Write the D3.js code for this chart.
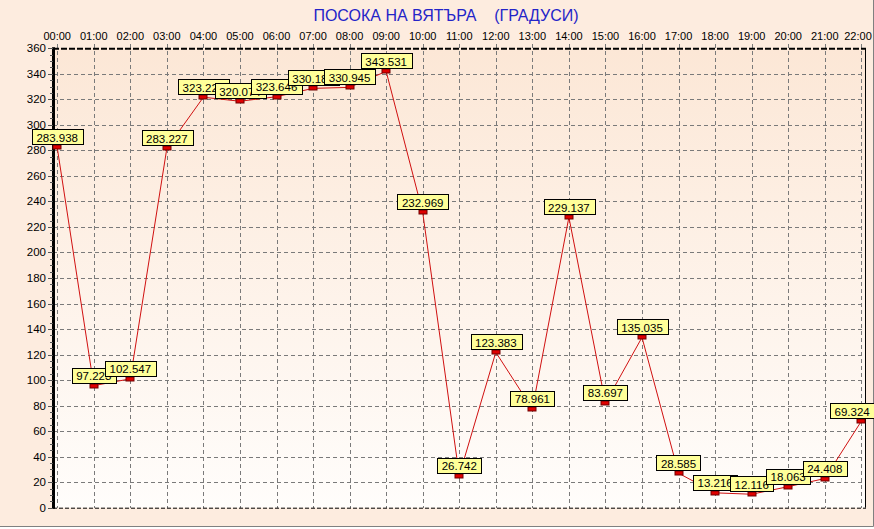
<!DOCTYPE html>
<html><head><meta charset="utf-8">
<script src="https://cdn.jsdelivr.net/npm/d3@7"></script>
<style>body{margin:0;background:#fff}svg{display:block}</style>
</head><body>
<svg id="c" width="874" height="529"></svg>
<script>
const hours = ["00:00","01:00","02:00","03:00","04:00","05:00","06:00","07:00","08:00","09:00","10:00","11:00","12:00","13:00","14:00","15:00","16:00","17:00","18:00","19:00","20:00","21:00","22:00"];
const values = [283.938,97.223,102.547,283.227,323.224,320.074,323.646,330.184,330.945,343.531,232.969,26.742,123.383,78.961,229.137,83.697,135.035,28.585,13.216,12.116,18.063,24.408,69.324];
const yTicks = [0,20,40,60,80,100,120,140,160,180,200,220,240,260,280,300,320,340,360];
const title = "ПОСОКА НА ВЯТЪРА    (ГРАДУСИ)";

(function(){
const svg = d3.select("#c");
const W = 874, H = 529;
const x = d3.scaleLinear().domain([0, hours.length-1]).range([57.2, 861.3]);
const y = d3.scaleLinear().domain([0, 360]).range([507.7, 48.3]);
const pL = 53, pR = 866, pT = 48.3, pB = 507.7;
const FF = "Liberation Sans, Arial, sans-serif";

const defs = svg.append("defs");
const g1 = defs.append("linearGradient").attr("id","pg").attr("x1",0).attr("y1",0).attr("x2",0).attr("y2",1);
g1.append("stop").attr("offset","0%").attr("stop-color","#fce7d6");
g1.append("stop").attr("offset","100%").attr("stop-color","#fffdfb");

svg.append("rect").attr("width",W).attr("height",H).attr("fill","#fdecdf");
svg.append("rect").attr("x",0).attr("y",526).attr("width",W).attr("height",3).attr("fill","#ffffff");
svg.append("line").attr("x1",0).attr("x2",873.5).attr("y1",526.5).attr("y2",526.5).attr("stroke","#808080");
svg.append("line").attr("x1",873.5).attr("x2",873.5).attr("y1",0).attr("y2",526.5).attr("stroke","#808080");

svg.append("rect").attr("x",pL).attr("y",pT).attr("width",pR-pL).attr("height",pB-pT).attr("fill","url(#pg)");

svg.append("text").attr("x",446).attr("y",21).attr("text-anchor","middle")
  .attr("font-family",FF).attr("font-size",16)
  .attr("fill","#2424c8").style("white-space","pre").text(title);

const grid = svg.append("g").attr("stroke","#7a7a7a").attr("stroke-dasharray","4,3").attr("shape-rendering","crispEdges");
grid.selectAll("line.h").data(yTicks.slice(1,-1)).join("line")
  .attr("x1",pL).attr("x2",pR).attr("y1",d=>Math.round(y(d))+0.5).attr("y2",d=>Math.round(y(d))+0.5);
grid.selectAll("line.v").data(hours).join("line")
  .attr("x1",(d,i)=>Math.round(x(i))+0.5).attr("x2",(d,i)=>Math.round(x(i))+0.5).attr("y1",pT-4).attr("y2",pB);

svg.append("line").attr("x1",pL).attr("x2",pR).attr("y1",pT+0.5).attr("y2",pT+0.5).attr("stroke","#000").attr("stroke-width",2).attr("stroke-dasharray","6,2");
svg.append("line").attr("x1",pL).attr("x2",pR).attr("y1",pB+0.5).attr("y2",pB+0.5).attr("stroke","#000").attr("stroke-dasharray","4,2");
svg.append("line").attr("x1",pR-0.5).attr("x2",pR-0.5).attr("y1",pT).attr("y2",pB).attr("stroke","#000");
svg.append("line").attr("x1",pL+0.5).attr("x2",pL+0.5).attr("y1",pT-1).attr("y2",pB+1).attr("stroke","#000").attr("stroke-width",3);

const minor = d3.range(0, 361, 5);
svg.append("g").selectAll("line").data(minor).join("line")
  .attr("x1",d=>d%20===0?pL-5:pL-3).attr("x2",pL)
  .attr("y1",d=>Math.round(y(d))+0.5).attr("y2",d=>Math.round(y(d))+0.5)
  .attr("stroke","#555");
svg.append("g").selectAll("text").data(yTicks).join("text")
  .attr("x",46).attr("y",d=>y(d)+4).attr("text-anchor","end")
  .attr("font-family",FF).attr("font-size",11.5).attr("fill","#000")
  .text(d=>d);

svg.append("g").selectAll("text").data(hours).join("text")
  .attr("x",(d,i)=>Math.min(x(i), 858)).attr("y",40).attr("text-anchor","middle")
  .attr("font-family",FF).attr("font-size",11).attr("fill","#000")
  .text(d=>d);

const line = d3.line().x((d,i)=>x(i)).y(d=>y(d)+2);
svg.append("path").datum(values).attr("d",line).attr("fill","none").attr("stroke","#d01010").attr("stroke-width",1);

svg.append("g").selectAll("rect").data(values).join("rect")
  .attr("x",(d,i)=>Math.round(x(i))-4).attr("y",d=>Math.round(y(d))).attr("width",8).attr("height",4)
  .attr("fill","#e00000").attr("stroke","#700000").attr("stroke-width",1);

const lg = svg.append("g").attr("font-family",FF).attr("font-size",11.5);
values.forEach((v,i)=>{
  const g = lg.append("g");
  const t = g.append("text").attr("x",x(i)).attr("y",y(v)-3.5).attr("text-anchor","middle").attr("fill","#000").text(v.toFixed(3));
  const w = t.node().getComputedTextLength() + 9;
  let bx = Math.round(x(i)-w/2);
  if (bx + w > W) { bx = W - Math.round(w); t.attr("x", bx + w/2); }
  g.insert("rect","text").attr("x",bx+0.5).attr("y",Math.round(y(v))-15.5).attr("width",Math.round(w)).attr("height",15)
    .attr("fill","#ffff99").attr("stroke","#000");
});
})();
</script>
</body></html>
